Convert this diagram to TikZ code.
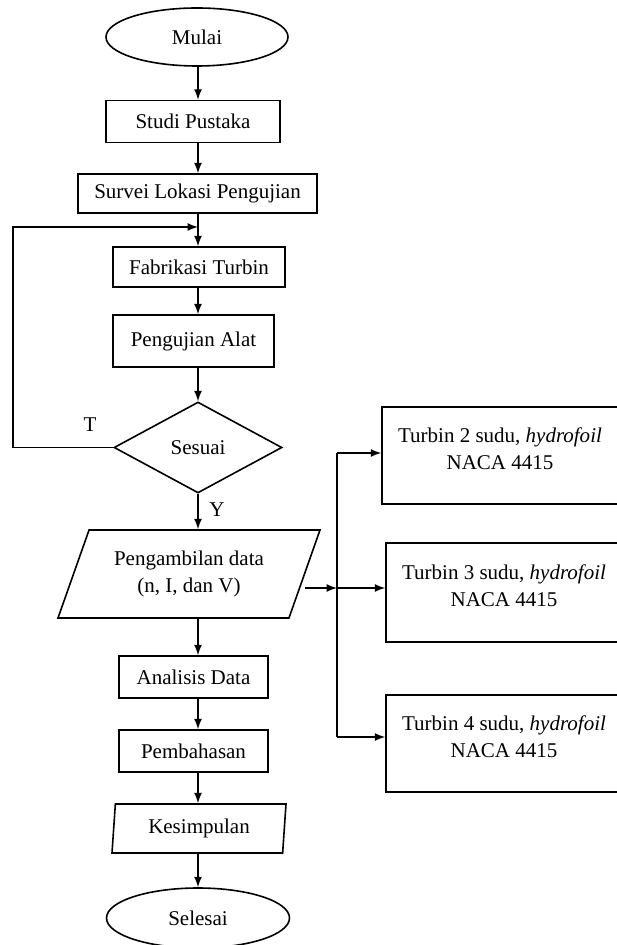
\documentclass[tikz,border=0pt]{standalone}
\usepackage{fontspec}
\setmainfont{Liberation Serif}
\usetikzlibrary{calc, shapes.geometric, arrows, positioning}
\tikzstyle{startstop}=[draw, ellipse, minimum width=91pt, minimum height=29pt, inner sep=0pt]
\tikzstyle{process}=[draw, rectangle, minimum height=21pt, inner sep=0pt]
\tikzstyle{decision}=[draw, diamond, aspect=1.85, minimum width=84pt, minimum height=45.5pt, inner sep=0pt]
\tikzstyle{inout}=[draw, trapezium, trapezium stretches body, inner sep=0pt, align=center]
\tikzstyle{turbine}=[draw, rectangle, align=center, minimum width=118pt, minimum height=48.5pt, text depth=7pt]
\tikzstyle{flow}=[-latex]

\begin{document}
\begin{tikzpicture}[x=0.5pt, y=-0.5pt, line width=0.8pt, font=\fontsize{10.5}{13.5}\selectfont]
\useasboundingbox (0, 0) rectangle (616, 945);
\draw (197, 37) node [startstop] (mulai) {Mulai};
\draw (193, 121.5) node [process, minimum width=87pt] (studi) {Studi Pustaka};
\draw (197.5, 193.5) node [process, minimum width=119.5pt, minimum height=19.5pt] (survei) {Survei Lokasi Pengujian};
\draw (199, 267) node [process, minimum width=86pt, minimum height=20pt] (fabrikasi) {Fabrikasi Turbin};
\draw (193.5, 341) node [process, minimum width=80.5pt, minimum height=26pt] (pengujian) {Pengujian Alat};
\draw (198, 447.5) node [decision] (sesuai) {Sesuai};
\draw (189, 574) node [inout, trapezium left angle=56, trapezium right angle=124, minimum width=131pt, minimum height=44pt] (data) {Pengambilan data\\(n, I, dan V)};
\draw (193.5, 677) node [process, minimum width=74.5pt] (analisis) {Analisis Data};
\draw (193.5, 751) node [process, minimum width=74.5pt] (pembahasan) {Pembahasan};
\draw (199, 828.5) node [inout, trapezium left angle=80, trapezium right angle=100, minimum width=87pt, minimum height=24.5pt] (kesimpulan) {Kesimpulan};
\draw (198, 918) node [startstop, minimum width=91.5pt, minimum height=30pt] (selesai) {Selesai};
\draw (90, 425) node (tidak) {T};
\draw (217, 510) node (ya) {Y};
\draw (500, 455.5) node [turbine] (tdua) {Turbin 2 sudu, \textit{hydrofoil}\\NACA 4415};
\draw (504, 592.5) node [turbine, minimum height=49.5pt] (ttiga) {Turbin 3 sudu, \textit{hydrofoil}\\NACA 4415};
\draw (504, 743.5) node [turbine] (tempat) {Turbin 4 sudu, \textit{hydrofoil}\\NACA 4415};
\coordinate (balik) at (13, 227);
\coordinate (cabang) at (337, 588);
\coordinate (atas) at (337, 453);
\coordinate (bawah) at (337, 737);
% alur utama, semua panah di x sesuai
\draw [flow] (sesuai |- mulai.south) -- (sesuai |- studi.north);
\draw [flow] (sesuai |- studi.south) -- (sesuai |- survei.north);
\draw [flow] (sesuai |- survei.south) -- (sesuai |- fabrikasi.north);
\draw [flow] (sesuai |- fabrikasi.south) -- (sesuai |- pengujian.north);
\draw [flow] (sesuai |- pengujian.south) -- (sesuai);
\draw [flow] (sesuai.west) -| (balik) -- (sesuai |- balik);
\draw [flow] (sesuai) -- (sesuai |- data.north);
\draw [flow] (sesuai |- data.south) -- (sesuai |- analisis.north);
\draw [flow] (sesuai |- analisis.south) -- (sesuai |- pembahasan.north);
\draw [flow] (sesuai |- pembahasan.south) -- (sesuai |- kesimpulan.north);
\draw [flow] (sesuai |- kesimpulan.south) -- (selesai);
% cabang ke turbin
\draw [flow] (data.east |- cabang) -- (cabang);
\draw (atas) -- (bawah);
\draw [flow] (atas) -- (atas -| tdua.west);
\draw [flow] (cabang) -- (cabang -| ttiga.west);
\draw [flow] (bawah) -- (bawah -| tempat.west);
\end{tikzpicture}
\end{document}
